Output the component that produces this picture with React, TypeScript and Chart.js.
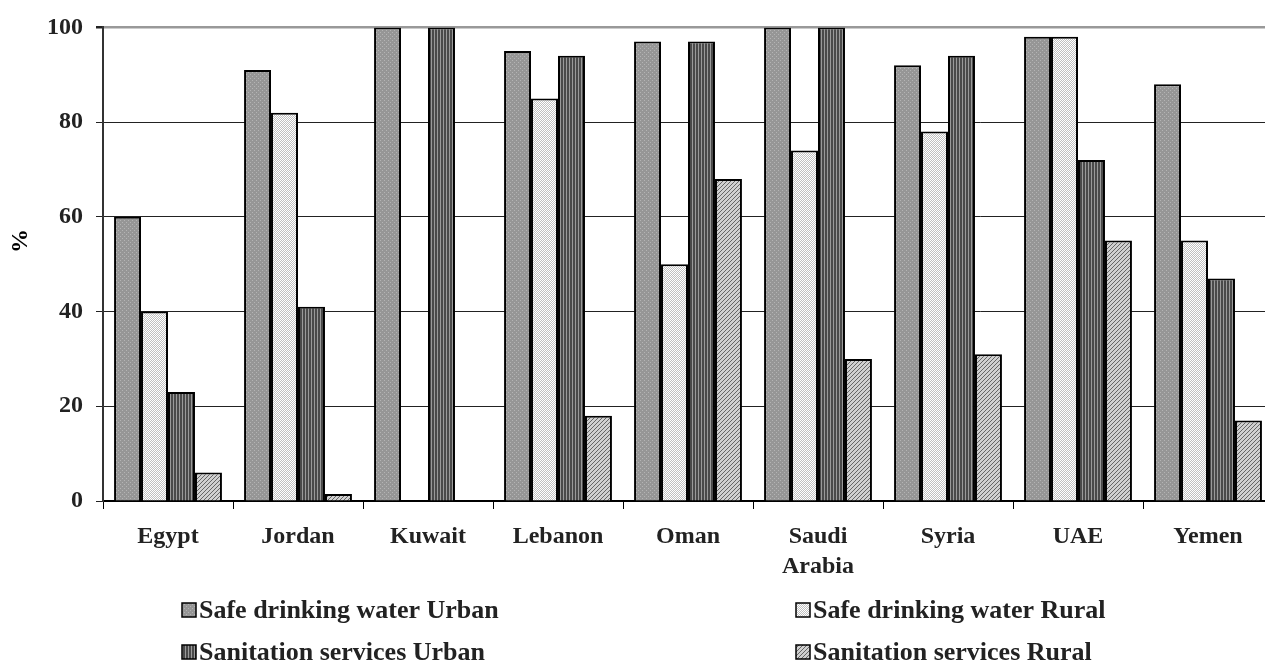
import React, { useEffect, useRef } from "react";
import { Chart, registerables } from "chart.js";

Chart.register(...registerables);

const categories: (string | string[])[] = ["Egypt", "Jordan", "Kuwait", "Lebanon", "Oman", ["Saudi", "Arabia"], "Syria", "UAE", "Yemen"];
const waterUrban: (number | null)[] = [60, 91, 100, 95, 97, 100, 92, 98, 88];
const waterRural: (number | null)[] = [40, 82, null, 85, 50, 74, 78, 98, 55];
const sanitUrban: (number | null)[] = [23, 41, 100, 94, 97, 100, 94, 72, 47];
const sanitRural: (number | null)[] = [6, 1.5, null, 18, 68, 30, 31, 55, 17];
const seriesNames = ["Safe drinking water Urban", "Safe drinking water Rural", "Sanitation services Urban", "Sanitation services Rural"];
const yTicks = [0, 20, 40, 60, 80, 100];

const FONT = "'Liberation Serif', 'Times New Roman', serif";

function makePattern(kind: number): CanvasPattern | string {
  const c = document.createElement("canvas");
  const ctx = c.getContext("2d")!;
  if (kind === 0) {
    c.width = 4; c.height = 4;
    ctx.fillStyle = "#969696"; ctx.fillRect(0, 0, 4, 4);
    ctx.fillStyle = "#b4b4b4"; ctx.fillRect(0, 0, 1, 1); ctx.fillRect(2, 2, 1, 1);
  } else if (kind === 1) {
    c.width = 2; c.height = 2;
    ctx.fillStyle = "#ffffff"; ctx.fillRect(0, 0, 2, 2);
    ctx.fillStyle = "#c0c0c0"; ctx.fillRect(1, 0, 1, 1); ctx.fillRect(0, 1, 1, 1);
  } else if (kind === 2) {
    c.width = 3; c.height = 3;
    ctx.fillStyle = "#4a4a4a"; ctx.fillRect(0, 0, 3, 3);
    ctx.fillStyle = "#9a9a9a"; ctx.fillRect(2, 0, 1, 3);
  } else {
    c.width = 4; c.height = 4;
    ctx.fillStyle = "#d0d0d0"; ctx.fillRect(0, 0, 4, 4);
    ctx.fillStyle = "#666666";
    for (let i = 0; i < 4; i++) ctx.fillRect(3 - i, i, 1, 1);
  }
  return ctx.createPattern(c, "repeat") || "#999";
}

export default function App() {
  const ref = useRef<HTMLCanvasElement | null>(null);
  useEffect(() => {
    if (!ref.current) return;
    const fills = [0, 1, 2, 3].map(makePattern);
    const dataArrays = [waterUrban, waterRural, sanitUrban, sanitRural];

    const legendPlugin = {
      id: "customLegend",
      afterDraw(chart: any) {
        const ctx = chart.ctx as CanvasRenderingContext2D;
        ctx.save();
        const pos = [
          { x: 182, y: 610 },
          { x: 796, y: 610 },
          { x: 182, y: 652 },
          { x: 796, y: 652 },
        ];
        pos.forEach((p, i) => {
          ctx.fillStyle = fills[i] as any;
          ctx.fillRect(p.x, p.y - 7, 14, 14);
          ctx.strokeStyle = "#000";
          ctx.lineWidth = 1.5;
          ctx.strokeRect(p.x, p.y - 7, 14, 14);
          ctx.fillStyle = "#222";
          ctx.font = `bold 26px ${FONT}`;
          ctx.textBaseline = "middle";
          ctx.textAlign = "left";
          ctx.fillText(seriesNames[i], p.x + 17, p.y + 1);
        });
        // y-axis title
        ctx.translate(21, 241);
        ctx.rotate(-Math.PI / 2);
        ctx.font = `bold 24px ${FONT}`;
        ctx.textAlign = "center";
        ctx.textBaseline = "middle";
        ctx.fillStyle = "#000";
        ctx.fillText("%", 0, 0);
        ctx.restore();
      },
    };

    const chart = new Chart(ref.current, {
      type: "bar",
      data: {
        labels: categories as any,
        datasets: dataArrays.map((d, i) => ({
          label: seriesNames[i],
          data: d,
          backgroundColor: fills[i] as any,
          borderColor: "#000",
          borderWidth: 2,
          barPercentage: 1,
          categoryPercentage: 0.83,
        })),
      },
      options: {
        responsive: false,
        animation: false,
        layout: { padding: { top: 23, right: 7, left: 0, bottom: 0 } },
        plugins: { legend: { display: false }, tooltip: { enabled: false } },
        scales: {
          x: {
            afterFit: (s: any) => { s.height = 163; },
            grid: { drawOnChartArea: false, drawTicks: true, tickLength: 8, color: "#000", offset: true },
            border: { display: true, color: "#000", width: 2 },
            ticks: { color: "#222", font: { family: FONT, size: 24, weight: "bold", lineHeight: 1.25 }, padding: 13, maxRotation: 0, autoSkip: false },
          },
          y: {
            min: 0,
            max: 100,
            afterFit: (s: any) => { s.width = 103; },
            afterBuildTicks: (s: any) => { s.ticks = yTicks.map((v) => ({ value: v })); },
            grid: {
              color: (c: any) => (c.tick && c.tick.value === 100 ? "#999" : "#222"),
              lineWidth: (c: any) => (c.tick && c.tick.value === 100 ? 2.5 : 1),
              tickColor: "#222",
              tickLength: 7,
            },
            border: { display: true, color: "#333", width: 2 },
            ticks: { color: "#222", font: { family: FONT, size: 24, weight: "bold" }, padding: 13 },
          },
        },
      },
      plugins: [legendPlugin],
    });
    return () => chart.destroy();
  }, []);

  return (
    <div style={{ position: "fixed", left: 0, top: 0, width: 1265, height: 664, overflow: "hidden", background: "#fff" }}>
      <canvas ref={ref} width={1280} height={664} style={{ width: 1280, height: 664, display: "block" }} />
    </div>
  );
}
